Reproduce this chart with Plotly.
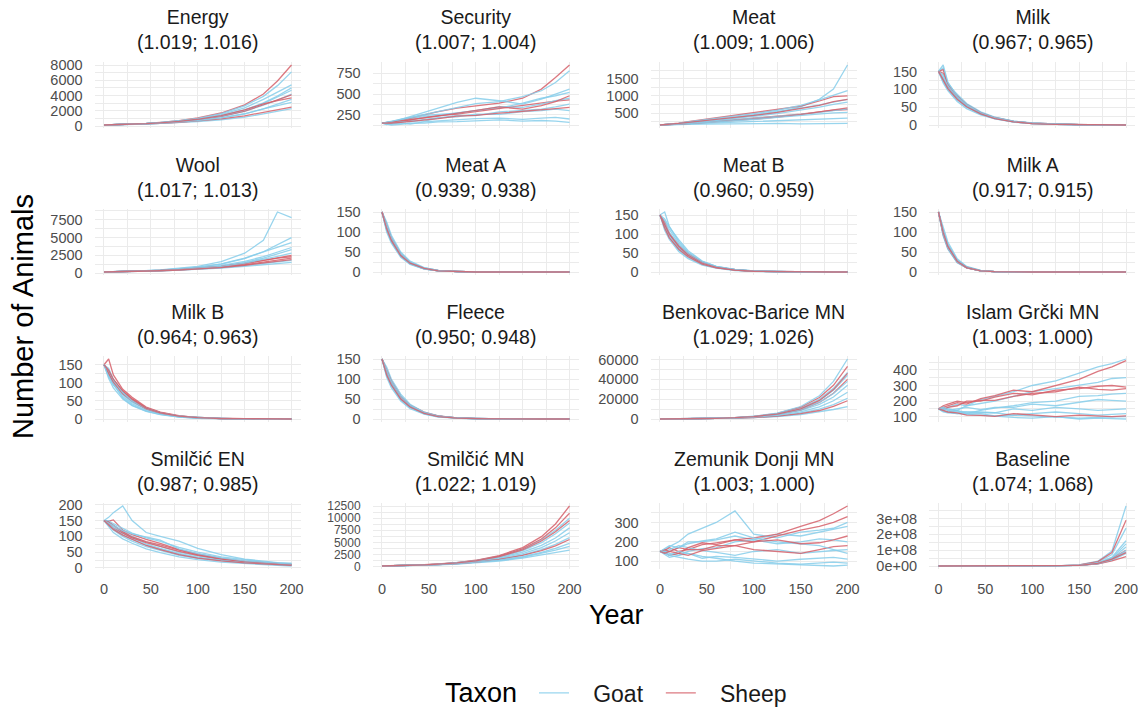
import plotly.graph_objects as go

# ---------------- data ----------------
YEARS = [0, 5, 10, 20, 30, 45, 60, 80, 100, 125, 150, 170, 185, 200]
X_TICKS = [0, 50, 100, 150, 200]

PANELS = ["Energy", "Security", "Meat", "Milk",
          "Wool", "Meat A", "Meat B", "Milk A",
          "Milk B", "Fleece", "Benkovac-Barice MN", "Islam Grčki MN",
          "Smilčić EN", "Smilčić MN", "Zemunik Donji MN", "Baseline"]
RATE_A = ["1.019", "1.007", "1.009", "0.967", "1.017", "0.939", "0.960", "0.917",
          "0.964", "0.950", "1.029", "1.003", "0.987", "1.022", "1.003", "1.074"]
RATE_B = ["1.016", "1.004", "1.006", "0.965", "1.013", "0.938", "0.959", "0.915",
          "0.963", "0.948", "1.026", "1.000", "0.985", "1.019", "1.000", "1.068"]

Y_TICKS = [[0, 2000, 4000, 6000, 8000], [250, 500, 750], [500, 1000, 1500], [0, 50, 100, 150],
           [0, 2500, 5000, 7500], [0, 50, 100, 150], [0, 50, 100, 150], [0, 50, 100, 150],
           [0, 50, 100, 150], [0, 50, 100, 150], [0, 20000, 40000, 60000], [100, 200, 300, 400],
           [0, 50, 100, 150, 200], [0, 2500, 5000, 7500, 10000, 12500], [100, 200, 300],
           [0, 1e8, 2e8, 3e8]]
BASELINE_TICK_TEXT = ["0e+00", "1e+08", "2e+08", "3e+08"]

GOAT_ENERGY = [
    [150, 163, 178, 210, 250, 325, 425, 610, 880, 1360, 2120, 3050, 3950, 5000],
    [150, 162, 172, 200, 235, 300, 380, 520, 720, 1070, 1600, 2250, 2850, 3500],
    [150, 166, 183, 222, 272, 360, 480, 700, 1030, 1650, 2650, 3900, 5300, 7100],
    [150, 164, 178, 212, 250, 322, 420, 585, 820, 1250, 1920, 2750, 3400, 4200],
    [150, 158, 168, 194, 224, 280, 350, 460, 610, 840, 1180, 1600, 1950, 2300],
    [150, 165, 181, 218, 262, 345, 455, 660, 950, 1500, 2400, 3500, 4500, 5400],
    [150, 164, 179, 213, 255, 330, 430, 615, 880, 1350, 2080, 2950, 3850, 4700],
    [150, 161, 172, 204, 240, 305, 380, 520, 740, 1090, 1620, 2250, 2700, 3100]]
SHEEP_ENERGY = [
    [150, 168, 186, 226, 277, 370, 500, 730, 1080, 1720, 2780, 4200, 5900, 8000],
    [150, 163, 177, 210, 250, 322, 420, 590, 850, 1290, 1970, 2800, 3500, 4100],
    [150, 160, 170, 198, 232, 292, 370, 500, 680, 950, 1350, 1800, 2200, 2500],
    [150, 164, 180, 215, 258, 336, 440, 620, 900, 1390, 2130, 2900, 3350, 3700]]

GOAT_SECURITY = [
    [150, 158, 165, 185, 200, 228, 240, 275, 300, 330, 390, 450, 480, 520],
    [150, 145, 140, 160, 180, 175, 210, 245, 240, 285, 300, 320, 345, 380],
    [150, 160, 170, 185, 220, 255, 290, 340, 385, 410, 470, 540, 640, 780],
    [150, 132, 145, 150, 140, 165, 178, 195, 205, 210, 195, 210, 220, 200],
    [150, 155, 165, 200, 215, 245, 255, 270, 300, 350, 340, 380, 420, 450],
    [150, 152, 160, 172, 165, 195, 215, 225, 260, 255, 290, 300, 320, 300],
    [150, 140, 128, 136, 150, 150, 165, 168, 180, 190, 175, 182, 175, 160],
    [150, 162, 175, 195, 230, 280, 330, 400, 450, 420, 380, 440, 500, 560]]
SHEEP_SECURITY = [
    [150, 155, 162, 190, 210, 250, 290, 330, 360, 390, 450, 560, 700, 850],
    [150, 150, 158, 172, 190, 210, 240, 260, 290, 330, 360, 395, 415, 430],
    [150, 158, 168, 180, 200, 215, 235, 270, 305, 345, 320, 360, 410, 480],
    [150, 146, 150, 160, 170, 188, 205, 235, 245, 270, 290, 305, 325, 340]]

GOAT_MEAT = [
    [150, 155, 165, 185, 210, 245, 280, 350, 420, 520, 680, 900, 1200, 1900],
    [150, 152, 158, 170, 180, 195, 210, 240, 260, 285, 310, 330, 340, 350],
    [150, 158, 170, 195, 230, 270, 320, 380, 450, 540, 640, 740, 820, 900],
    [150, 150, 152, 160, 170, 178, 182, 190, 190, 195, 185, 185, 190, 200],
    [150, 160, 172, 200, 240, 290, 350, 420, 480, 580, 720, 880, 1020, 1150],
    [150, 156, 164, 180, 200, 225, 255, 300, 340, 400, 460, 520, 580, 620],
    [150, 154, 162, 175, 190, 215, 238, 280, 310, 370, 430, 480, 505, 520],
    [150, 157, 168, 190, 210, 240, 280, 340, 400, 480, 580, 670, 750, 820]]
SHEEP_MEAT = [
    [150, 160, 175, 205, 245, 300, 360, 430, 500, 600, 700, 850, 980, 1000],
    [150, 156, 165, 180, 200, 225, 255, 300, 340, 400, 470, 530, 580, 600],
    [150, 153, 160, 175, 190, 215, 240, 280, 320, 380, 450, 530, 600, 650],
    [150, 158, 170, 195, 225, 265, 310, 370, 430, 520, 620, 720, 830, 900]]

GOAT_MILK = [
    [150, 130, 108, 78, 55, 33, 20, 10, 5, 2, 1, 0, 0, 0],
    [150, 160, 118, 82, 58, 35, 21, 11, 5, 2, 1, 0, 0, 0],
    [150, 122, 100, 70, 50, 30, 18, 9, 4, 2, 1, 0, 0, 0],
    [150, 140, 112, 85, 60, 37, 22, 11, 6, 2, 1, 0, 0, 0],
    [150, 126, 104, 73, 52, 31, 19, 9, 4, 2, 1, 0, 0, 0],
    [150, 118, 96, 66, 46, 28, 17, 8, 4, 1, 0, 0, 0, 0],
    [150, 168, 120, 80, 57, 34, 20, 10, 5, 2, 1, 0, 0, 0],
    [150, 135, 110, 76, 54, 32, 19, 10, 5, 2, 1, 0, 0, 0]]
SHEEP_MILK = [
    [150, 145, 114, 82, 58, 35, 21, 10, 5, 2, 1, 0, 0, 0],
    [150, 128, 106, 76, 53, 32, 19, 9, 4, 2, 1, 0, 0, 0],
    [150, 155, 112, 80, 57, 34, 20, 10, 5, 2, 1, 0, 0, 0],
    [150, 124, 102, 72, 51, 31, 18, 9, 4, 2, 1, 0, 0, 0]]

GOAT_WOOL = [
    [150, 160, 172, 200, 232, 290, 362, 490, 665, 980, 1500, 2100, 2700, 3300],
    [150, 162, 176, 208, 245, 312, 400, 560, 800, 1250, 2050, 3000, 4000, 5000],
    [150, 164, 180, 215, 260, 340, 445, 650, 950, 1600, 2800, 4600, 8600, 7800],
    [150, 158, 168, 192, 220, 270, 328, 430, 560, 780, 1100, 1400, 1650, 1800],
    [150, 161, 174, 204, 238, 302, 380, 520, 720, 1080, 1650, 2300, 3000, 3600],
    [150, 163, 178, 210, 250, 320, 412, 585, 830, 1300, 2100, 3000, 3700, 4300],
    [150, 157, 165, 188, 213, 260, 312, 400, 520, 710, 960, 1200, 1380, 1500],
    [150, 160, 171, 198, 228, 285, 355, 475, 645, 930, 1400, 1900, 2350, 2800]]
SHEEP_WOOL = [
    [150, 159, 170, 196, 226, 282, 350, 470, 630, 900, 1320, 1750, 2150, 2500],
    [150, 158, 168, 192, 220, 273, 335, 445, 585, 820, 1170, 1550, 1850, 2100],
    [150, 160, 172, 200, 232, 292, 365, 490, 660, 950, 1380, 1800, 2100, 2300],
    [150, 157, 166, 190, 217, 267, 325, 430, 563, 780, 1100, 1420, 1700, 1900]]

GOAT_MEAT_A = [
    [150, 110, 80, 42, 22, 9, 3, 1, 0, 0, 0, 0, 0, 0],
    [150, 118, 88, 47, 25, 10, 4, 1, 0, 0, 0, 0, 0, 0],
    [150, 104, 75, 39, 20, 8, 3, 1, 0, 0, 0, 0, 0, 0],
    [150, 125, 92, 50, 27, 11, 4, 1, 0, 0, 0, 0, 0, 0],
    [150, 112, 82, 43, 23, 9, 3, 1, 0, 0, 0, 0, 0, 0],
    [150, 100, 72, 37, 19, 7, 3, 1, 0, 0, 0, 0, 0, 0],
    [150, 115, 85, 45, 24, 10, 4, 1, 0, 0, 0, 0, 0, 0],
    [150, 107, 78, 41, 21, 8, 3, 1, 0, 0, 0, 0, 0, 0]]
SHEEP_MEAT_A = [
    [150, 112, 83, 44, 23, 9, 3, 1, 0, 0, 0, 0, 0, 0],
    [150, 106, 77, 40, 21, 8, 3, 1, 0, 0, 0, 0, 0, 0],
    [150, 114, 84, 44, 23, 9, 4, 1, 0, 0, 0, 0, 0, 0],
    [150, 108, 79, 41, 22, 9, 3, 1, 0, 0, 0, 0, 0, 0]]

GOAT_MEAT_B = [
    [150, 125, 100, 66, 44, 23, 13, 6, 2, 1, 0, 0, 0, 0],
    [150, 158, 120, 80, 52, 28, 15, 6, 3, 1, 0, 0, 0, 0],
    [150, 118, 92, 58, 38, 20, 11, 5, 2, 1, 0, 0, 0, 0],
    [150, 135, 112, 75, 50, 27, 14, 6, 3, 1, 0, 0, 0, 0],
    [150, 120, 96, 63, 42, 22, 12, 5, 2, 1, 0, 0, 0, 0],
    [150, 110, 86, 54, 35, 18, 10, 4, 2, 0, 0, 0, 0, 0],
    [150, 140, 118, 85, 56, 29, 15, 7, 3, 1, 0, 0, 0, 0],
    [150, 128, 104, 70, 46, 24, 13, 6, 2, 1, 0, 0, 0, 0]]
SHEEP_MEAT_B = [
    [150, 122, 98, 64, 46, 24, 13, 6, 2, 1, 0, 0, 0, 0],
    [150, 130, 102, 70, 47, 25, 13, 6, 2, 1, 0, 0, 0, 0],
    [150, 116, 90, 60, 40, 21, 11, 5, 2, 1, 0, 0, 0, 0],
    [150, 126, 100, 68, 44, 23, 12, 5, 2, 1, 0, 0, 0, 0]]

GOAT_MILK_A = [
    [150, 97, 62, 26, 11, 3, 1, 0, 0, 0, 0, 0, 0, 0],
    [150, 105, 70, 30, 13, 4, 1, 0, 0, 0, 0, 0, 0, 0],
    [150, 90, 57, 23, 10, 3, 1, 0, 0, 0, 0, 0, 0, 0],
    [150, 110, 75, 33, 14, 4, 1, 0, 0, 0, 0, 0, 0, 0],
    [150, 100, 65, 28, 12, 3, 1, 0, 0, 0, 0, 0, 0, 0],
    [150, 93, 59, 24, 10, 3, 1, 0, 0, 0, 0, 0, 0, 0],
    [150, 102, 67, 29, 12, 3, 1, 0, 0, 0, 0, 0, 0, 0],
    [150, 95, 60, 25, 11, 3, 1, 0, 0, 0, 0, 0, 0, 0]]
SHEEP_MILK_A = [
    [150, 98, 63, 27, 11, 3, 1, 0, 0, 0, 0, 0, 0, 0],
    [150, 101, 66, 28, 12, 3, 1, 0, 0, 0, 0, 0, 0, 0],
    [150, 94, 60, 25, 10, 3, 1, 0, 0, 0, 0, 0, 0, 0],
    [150, 99, 64, 27, 11, 3, 1, 0, 0, 0, 0, 0, 0, 0]]

GOAT_MILK_B = [
    [150, 125, 103, 71, 49, 28, 16, 8, 4, 1, 1, 0, 0, 0],
    [150, 140, 110, 74, 50, 29, 16, 8, 3, 1, 0, 0, 0, 0],
    [150, 120, 96, 62, 42, 24, 14, 6, 3, 1, 0, 0, 0, 0],
    [150, 130, 98, 58, 38, 22, 13, 6, 2, 1, 0, 0, 0, 0],
    [150, 118, 94, 67, 46, 27, 15, 7, 3, 1, 0, 0, 0, 0],
    [150, 128, 106, 75, 52, 30, 17, 8, 4, 1, 1, 0, 0, 0],
    [150, 112, 86, 55, 37, 21, 12, 5, 2, 1, 0, 0, 0, 0],
    [150, 135, 108, 73, 50, 29, 16, 8, 4, 1, 1, 0, 0, 0]]
SHEEP_MILK_B = [
    [150, 166, 122, 82, 60, 33, 19, 9, 4, 2, 1, 0, 0, 0],
    [150, 130, 108, 76, 56, 31, 18, 8, 4, 1, 1, 0, 0, 0],
    [150, 124, 102, 70, 50, 28, 16, 7, 3, 1, 0, 0, 0, 0],
    [150, 135, 110, 78, 55, 30, 17, 8, 4, 1, 1, 0, 0, 0]]

GOAT_FLEECE = [
    [150, 115, 89, 53, 31, 14, 7, 2, 1, 0, 0, 0, 0, 0],
    [150, 125, 96, 58, 34, 16, 7, 3, 1, 0, 0, 0, 0, 0],
    [150, 108, 82, 48, 28, 13, 6, 2, 1, 0, 0, 0, 0, 0],
    [150, 130, 100, 62, 37, 17, 8, 3, 1, 0, 0, 0, 0, 0],
    [150, 118, 91, 55, 32, 15, 7, 2, 1, 0, 0, 0, 0, 0],
    [150, 104, 78, 45, 26, 12, 5, 2, 0, 0, 0, 0, 0, 0],
    [150, 120, 94, 57, 34, 16, 7, 3, 1, 0, 0, 0, 0, 0],
    [150, 112, 86, 51, 30, 14, 6, 2, 1, 0, 0, 0, 0, 0]]
SHEEP_FLEECE = [
    [150, 118, 92, 57, 35, 17, 8, 3, 1, 0, 0, 0, 0, 0],
    [150, 113, 87, 52, 31, 14, 7, 2, 1, 0, 0, 0, 0, 0],
    [150, 120, 95, 56, 33, 15, 7, 3, 1, 0, 0, 0, 0, 0],
    [150, 110, 85, 50, 30, 14, 6, 2, 1, 0, 0, 0, 0, 0]]

GOAT_BENKOVAC = [
    [150, 172, 196, 255, 335, 500, 750, 1290, 2240, 4400, 8700, 14800, 22300, 34000],
    [150, 175, 202, 268, 355, 545, 840, 1480, 2650, 5400, 11200, 20000, 31000, 47000],
    [150, 170, 192, 245, 315, 460, 670, 1100, 1820, 3350, 6200, 10100, 14600, 21000],
    [150, 176, 205, 275, 368, 575, 900, 1610, 2900, 6000, 12700, 23500, 38000, 60500],
    [150, 168, 188, 236, 298, 420, 590, 930, 1500, 2650, 4700, 7200, 9700, 12500],
    [150, 173, 199, 262, 345, 525, 800, 1380, 2420, 4850, 9600, 17000, 25800, 38000],
    [150, 171, 194, 250, 325, 480, 710, 1200, 2030, 3850, 7300, 12300, 18500, 27000],
    [150, 174, 200, 265, 350, 535, 820, 1420, 2520, 5050, 10200, 18500, 29000, 44000]]
SHEEP_BENKOVAC = [
    [150, 175, 204, 272, 362, 565, 880, 1570, 2800, 5800, 12000, 21700, 34000, 53000],
    [150, 172, 197, 258, 340, 512, 775, 1330, 2330, 4700, 9400, 16800, 26000, 40000],
    [150, 169, 190, 240, 305, 440, 630, 1020, 1670, 3000, 5500, 8700, 12800, 18500],
    [150, 174, 201, 266, 352, 540, 830, 1440, 2560, 5100, 10300, 18800, 29700, 46000]]

GOAT_ISLAM = [
    [150, 140, 160, 180, 170, 210, 230, 260, 300, 330, 380, 420, 440, 470],
    [150, 160, 150, 140, 170, 185, 200, 230, 260, 280, 300, 320, 345, 350],
    [150, 135, 130, 140, 120, 140, 155, 170, 190, 200, 230, 235, 245, 250],
    [150, 155, 140, 150, 160, 145, 160, 160, 180, 170, 190, 210, 205, 200],
    [150, 130, 125, 120, 130, 130, 125, 150, 140, 160, 150, 140, 145, 150],
    [150, 145, 150, 135, 130, 125, 125, 110, 120, 130, 120, 110, 115, 120],
    [150, 160, 140, 130, 120, 120, 105, 110, 105, 100, 90, 95, 98, 100],
    [150, 140, 130, 120, 115, 108, 105, 95, 90, 100, 85, 90, 88, 85]]
SHEEP_ISLAM = [
    [150, 160, 170, 190, 180, 215, 235, 270, 260, 300, 340, 390, 420, 460],
    [150, 145, 160, 170, 200, 200, 225, 250, 240, 270, 280, 295, 300, 290],
    [150, 170, 180, 200, 190, 205, 205, 230, 250, 260, 290, 275, 270, 280],
    [150, 140, 130, 125, 110, 108, 102, 120, 110, 100, 110, 102, 100, 105]]

GOAT_SMILCIC_EN = [
    [150, 145, 135, 115, 100, 82, 68, 50, 38, 27, 19, 15, 12, 10],
    [150, 160, 175, 196, 150, 112, 100, 85, 62, 42, 28, 21, 17, 15],
    [150, 135, 120, 100, 85, 67, 55, 40, 30, 22, 16, 13, 11, 9],
    [150, 140, 128, 110, 95, 76, 62, 46, 34, 24, 17, 13, 10, 8],
    [150, 150, 140, 125, 110, 95, 84, 65, 50, 35, 25, 19, 16, 13],
    [150, 130, 112, 92, 78, 60, 48, 35, 26, 18, 13, 10, 8, 6],
    [150, 142, 132, 118, 108, 98, 88, 60, 45, 32, 22, 18, 14, 12],
    [150, 138, 125, 105, 90, 72, 59, 43, 32, 23, 16, 13, 10, 8]]
SHEEP_SMILCIC_EN = [
    [150, 148, 152, 120, 105, 90, 78, 58, 44, 30, 21, 17, 13, 11],
    [150, 140, 125, 110, 95, 80, 68, 52, 40, 28, 20, 16, 12, 10],
    [150, 145, 135, 115, 98, 83, 73, 56, 42, 29, 20, 16, 12, 10],
    [150, 136, 122, 104, 90, 71, 58, 42, 31, 22, 16, 12, 10, 8]]

GOAT_SMILCIC_MN = [
    [150, 165, 182, 222, 270, 365, 495, 740, 1110, 1830, 3000, 4400, 5900, 8000],
    [150, 163, 178, 215, 260, 345, 455, 670, 980, 1550, 2450, 3500, 4600, 6000],
    [150, 167, 186, 230, 283, 390, 535, 810, 1250, 2130, 3600, 5500, 7500, 10000],
    [150, 162, 175, 208, 248, 326, 420, 595, 850, 1290, 1950, 2700, 3400, 4200],
    [150, 164, 180, 218, 265, 356, 478, 700, 1040, 1680, 2700, 3950, 5300, 7000],
    [150, 161, 173, 204, 242, 315, 400, 562, 790, 1180, 1750, 2350, 2900, 3400],
    [150, 166, 184, 226, 277, 380, 515, 775, 1180, 1980, 3300, 4950, 6800, 9000],
    [150, 162, 176, 211, 253, 335, 435, 620, 895, 1370, 2100, 2950, 3800, 4800]]
SHEEP_SMILCIC_MN = [
    [150, 168, 188, 234, 290, 405, 565, 850, 1330, 2300, 3950, 6200, 8800, 12500],
    [150, 167, 186, 231, 285, 395, 550, 820, 1270, 2180, 3700, 5700, 8000, 11000],
    [150, 163, 178, 214, 258, 340, 445, 658, 960, 1500, 2350, 3300, 4300, 5600],
    [150, 166, 184, 228, 280, 385, 525, 795, 1220, 2070, 3450, 5300, 7200, 9500]]

GOAT_ZEMUNIK = [
    [150, 160, 175, 200, 240, 270, 300, 360, 240, 220, 250, 260, 270, 300],
    [150, 140, 150, 170, 200, 200, 210, 230, 210, 240, 230, 250, 265, 280],
    [150, 155, 140, 130, 150, 165, 170, 200, 210, 190, 200, 215, 210, 200],
    [150, 145, 160, 180, 170, 155, 145, 130, 150, 160, 140, 150, 155, 160],
    [150, 135, 120, 130, 140, 115, 125, 120, 110, 100, 110, 115, 120, 110],
    [150, 150, 130, 120, 110, 100, 100, 110, 100, 90, 85, 90, 95, 90],
    [150, 165, 180, 170, 190, 205, 215, 250, 220, 200, 190, 180, 160, 140],
    [150, 140, 130, 150, 140, 125, 115, 100, 90, 85, 80, 78, 75, 80]]
SHEEP_ZEMUNIK = [
    [150, 155, 170, 150, 160, 185, 195, 210, 220, 240, 280, 310, 345, 385],
    [150, 145, 130, 140, 170, 195, 185, 210, 200, 230, 260, 280, 300, 330],
    [150, 160, 150, 170, 160, 160, 180, 180, 160, 150, 140, 160, 175, 180],
    [150, 140, 150, 140, 130, 155, 165, 180, 200, 210, 190, 195, 210, 230]]

GOAT_BASELINE = [
    [150, 215, 305, 610, 1230, 3600, 10500, 44000, 190000, 1.15e6, 7.0e6, 3.0e7, 9.5e7, 3.8e8],
    [150, 213, 300, 600, 1200, 3450, 9800, 40000, 165000, 9.8e5, 5.8e6, 2.4e7, 7.2e7, 2.4e8],
    [150, 212, 298, 592, 1180, 3320, 9300, 37000, 150000, 8.5e5, 4.9e6, 2.0e7, 5.6e7, 1.6e8],
    [150, 211, 296, 585, 1160, 3240, 9000, 35000, 138000, 7.6e5, 4.3e6, 1.7e7, 4.6e7, 1.2e8],
    [150, 210, 294, 580, 1150, 3200, 8800, 34000, 133000, 7.2e5, 4.0e6, 1.55e7, 4.2e7, 1.0e8],
    [150, 209, 292, 575, 1130, 3120, 8500, 32000, 125000, 6.6e5, 3.6e6, 1.38e7, 3.6e7, 8.0e7],
    [150, 212, 297, 588, 1170, 3280, 9150, 36000, 145000, 8.0e5, 4.5e6, 1.8e7, 5.0e7, 1.4e8],
    [150, 210, 293, 578, 1140, 3150, 8650, 33000, 130000, 7.0e5, 3.9e6, 1.5e7, 4.0e7, 9.0e7]]
SHEEP_BASELINE = [
    [150, 214, 303, 605, 1220, 3550, 10200, 42000, 180000, 1.08e6, 6.5e6, 2.8e7, 8.5e7, 2.9e8],
    [150, 211, 296, 586, 1165, 3260, 9100, 35500, 140000, 7.8e5, 4.4e6, 1.72e7, 4.7e7, 1.0e8],
    [150, 209, 291, 572, 1120, 3080, 8350, 31000, 120000, 6.3e5, 3.4e6, 1.3e7, 3.3e7, 6.0e7],
    [150, 210, 294, 582, 1155, 3210, 8900, 34500, 135000, 7.3e5, 4.1e6, 1.6e7, 4.3e7, 8.5e7]]

GOAT = [GOAT_ENERGY, GOAT_SECURITY, GOAT_MEAT, GOAT_MILK,
        GOAT_WOOL, GOAT_MEAT_A, GOAT_MEAT_B, GOAT_MILK_A,
        GOAT_MILK_B, GOAT_FLEECE, GOAT_BENKOVAC, GOAT_ISLAM,
        GOAT_SMILCIC_EN, GOAT_SMILCIC_MN, GOAT_ZEMUNIK, GOAT_BASELINE]
SHEEP = [SHEEP_ENERGY, SHEEP_SECURITY, SHEEP_MEAT, SHEEP_MILK,
         SHEEP_WOOL, SHEEP_MEAT_A, SHEEP_MEAT_B, SHEEP_MILK_A,
         SHEEP_MILK_B, SHEEP_FLEECE, SHEEP_BENKOVAC, SHEEP_ISLAM,
         SHEEP_SMILCIC_EN, SHEEP_SMILCIC_MN, SHEEP_ZEMUNIK, SHEEP_BASELINE]

# ---------------- style / layout ----------------
W, H = 1141, 710
FONT = "Liberation Sans, Arial, Helvetica, sans-serif"
GOAT_COLOR = "#87CEEB"
SHEEP_COLOR = "#D6616B"
GRID = "#EBEBEB"
TICK_COLOR = "#4D4D4D"
TITLE_COLOR = "#1A1A1A"
NB = "\u00a0"

COL_X0 = [94.6, 372.6, 650.6, 929.1]
PW = 206.3
ROW_Y0 = [62, 209, 356, 503]
PH = 66
LEGEND_Y = 693


def fx(px):
    return px / W


def fy(py):
    return 1 - py / H


fig = go.Figure()
layout = {}
annotations = []
legend_done = {"Goat": False, "Sheep": False}
legend_label = {"Goat": NB * 3 + "Goat" + NB * 2, "Sheep": NB * 3 + "Sheep"}

for i, name in enumerate(PANELS):
    r, c = divmod(i, 4)
    suf = "" if i == 0 else str(i + 1)
    goat, sheep = GOAT[i], SHEEP[i]

    # interleave draw order: two goat lines then one sheep line
    order = []
    gi = si = 0
    while gi < len(goat) or si < len(sheep):
        for _ in range(2):
            if gi < len(goat):
                order.append(("Goat", goat[gi]))
                gi += 1
        if si < len(sheep):
            order.append(("Sheep", sheep[si]))
            si += 1

    for kind, ys in order:
        show = not legend_done[kind]
        legend_done[kind] = True
        fig.add_trace(go.Scatter(
            x=YEARS, y=ys, mode="lines",
            line=dict(color=GOAT_COLOR if kind == "Goat" else SHEEP_COLOR, width=1.3),
            opacity=0.85, name=legend_label[kind], legendgroup=kind, showlegend=show,
            legendrank=1 if kind == "Goat" else 2,
            xaxis="x" + suf, yaxis="y" + suf, hoverinfo="skip"))

    allv = [v for ys in goat + sheep for v in ys]
    lo, hi = min(allv), max(allv)
    pad = 0.05 * (hi - lo)
    yr = [lo - pad, hi + pad]

    ticks = Y_TICKS[i]
    step = ticks[1] - ticks[0]
    ymin = [t + step / 2 for t in [ticks[0] - step] + ticks if yr[0] <= t + step / 2 <= yr[1]]
    ttext = BASELINE_TICK_TEXT if name == "Baseline" else [str(int(t)) for t in ticks]
    ysize = 12 if len(ticks) > 5 else 14.5

    x0 = COL_X0[c]
    y0 = ROW_Y0[r]
    layout["xaxis" + suf] = dict(
        domain=[fx(x0), fx(x0 + PW)], range=[-10, 210], anchor="y" + suf,
        tickmode="array", tickvals=X_TICKS, ticktext=[str(t) for t in X_TICKS],
        showticklabels=(r == 3), showgrid=True, gridcolor=GRID, gridwidth=1,
        zeroline=False, showline=False, ticks="",
        tickfont=dict(family=FONT, size=14.5, color=TICK_COLOR),
        ticklabelstandoff=9,
        minor=dict(tickmode="array", tickvals=[25, 75, 125, 175], showgrid=True,
                   gridcolor=GRID, gridwidth=0.6),
        fixedrange=True)
    layout["yaxis" + suf] = dict(
        domain=[fy(y0 + PH), fy(y0)], range=yr, anchor="x" + suf,
        tickmode="array", tickvals=ticks, ticktext=ttext,
        showgrid=True, gridcolor=GRID, gridwidth=1,
        zeroline=False, showline=False, ticks="",
        tickfont=dict(family=FONT, size=ysize, color=TICK_COLOR),
        ticklabelstandoff=11,
        minor=dict(tickmode="array", tickvals=ymin, showgrid=True,
                   gridcolor=GRID, gridwidth=0.6),
        fixedrange=True)

    annotations.append(dict(
        text=f"{name}<br>({RATE_A[i]}; {RATE_B[i]})",
        x=fx(x0 + PW / 2), y=fy(y0 - 32), xref="paper", yref="paper",
        xanchor="center", yanchor="middle", showarrow=False,
        font=dict(family=FONT, size=19.5, color=TITLE_COLOR)))

annotations.append(dict(
    text="Number of Animals", textangle=-90, x=fx(23), y=fy(317),
    xref="paper", yref="paper", xanchor="center", yanchor="middle", showarrow=False,
    font=dict(family=FONT, size=29, color="#000000")))
annotations.append(dict(
    text="Year", x=fx(616), y=fy(615), xref="paper", yref="paper",
    xanchor="center", yanchor="middle", showarrow=False,
    font=dict(family=FONT, size=27, color="#000000")))
annotations.append(dict(
    text="Taxon", x=fx(481), y=fy(LEGEND_Y), xref="paper", yref="paper",
    xanchor="center", yanchor="middle", showarrow=False,
    font=dict(family=FONT, size=27, color="#000000")))

fig.update_layout(
    width=W, height=H,
    margin=dict(l=0, r=0, t=0, b=0, autoexpand=False),
    paper_bgcolor="white", plot_bgcolor="white",
    font=dict(family=FONT),
    annotations=annotations,
    legend=dict(
        orientation="h", x=fx(534), y=fy(LEGEND_Y), xanchor="left", yanchor="middle",
        font=dict(family=FONT, size=23, color="#1A1A1A"),
        bgcolor="rgba(0,0,0,0)", itemwidth=30, tracegroupgap=0),
    **layout)

fig.write_html("out.html")
